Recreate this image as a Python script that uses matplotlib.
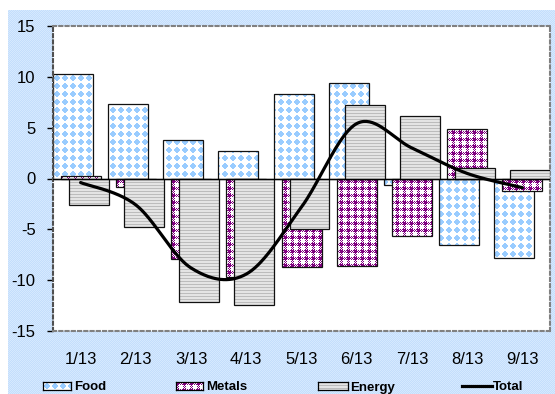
import numpy as np
import matplotlib
matplotlib.use("Agg")
import matplotlib.pyplot as plt
from matplotlib.path import Path
from matplotlib.lines import Line2D

plt.rcParams['font.family'] = ['Liberation Sans', 'DejaVu Sans']
plt.rcParams['axes.unicode_minus'] = False

# monthly contributions (percentage points)
months = ["1/13", "2/13", "3/13", "4/13", "5/13", "6/13", "7/13", "8/13", "9/13"]
food = [10.3, 7.3, 3.8, 2.7, 8.3, 9.4, -0.6, -6.5, -7.8]
metals = [0.2, -0.8, -7.9, -9.7, -8.7, -8.6, -5.7, 4.9, -1.2]
energy = [-2.6, -4.8, -12.1, -12.4, -5.0, 7.2, 6.1, 1.0, 0.8]
total = [-0.4, -2.6, -8.8, -9.4, -2.8, 5.4, 3.0, 0.5, -0.9]

W, H = 555, 394
AX_L, AX_R, AX_T, AX_B = 53, 550, 26, 331

BLUE = np.array([0x99, 0xCC, 0xFF]) / 255
PURPLE = np.array([0x80, 0x00, 0x80]) / 255


def food_tile():
    t = np.ones((8, 8, 3))
    yy, xx = np.mgrid[0:8, 0:8]
    d = np.abs(xx - 3.5) + np.abs(yy - 3.5)
    t[d <= 3] = BLUE
    return t


def metals_tile():
    # plaid: solid where both bands cross, dithered where only one band runs
    t = np.ones((7, 7, 3))
    yy, xx = np.mgrid[0:7, 0:7]
    row_band = yy < 3
    col_band = xx < 3
    dither = (xx + yy) % 2 == 0
    t[row_band & col_band] = PURPLE
    t[(row_band ^ col_band) & dither] = PURPLE
    return t


def energy_tile():
    t = np.full((3, 3, 3), 0xE4 / 255)
    t[0, :] = 0xBC / 255
    return t


def tiled(tile, h, w):
    th, tw = tile.shape[:2]
    return np.tile(tile, (h // th + 1, w // tw + 1, 1))[:h, :w]


fig = plt.figure(figsize=(W / 100, H / 100), dpi=100)

# light blue chart area with a fine dither
bg_h, bg_w = H - 10, W - 8
chk = (np.add.outer(np.arange(bg_h), np.arange(bg_w)) % 2)[..., None]
bg = np.where(chk, np.array([0xC4, 0xDE, 0xFC]) / 255, np.array([0xD6, 0xE9, 0xFE]) / 255)
fig.figimage(bg, xo=8, yo=0, zorder=-1)

ax = fig.add_axes([AX_L / W, (H - AX_B) / H, (AX_R - AX_L) / W, (AX_B - AX_T) / H])
ax.set_facecolor("white")

x = np.arange(len(months))
cat_w = (AX_R - AX_L) / len(months)
bar_w = 40 / cat_w
step = 8 / cat_w
ph, pw = AX_B - AX_T, AX_R - AX_L

series = [(food, food_tile(), -step, 2), (metals, metals_tile(), 0, 3), (energy, energy_tile(), step, 4)]
for vals, tile, off, z in series:
    bars = ax.bar(x + off, vals, bar_w, facecolor="none", edgecolor="#111111",
                  linewidth=0.9, zorder=z + 0.5)
    im = ax.imshow(tiled(tile, ph, pw), extent=(-0.5, 8.5, -15, 15), aspect="auto",
                   interpolation="nearest", zorder=z)
    paths = [b.get_patch_transform().transform_path(b.get_path()) for b in bars]
    im.set_clip_path(Path.make_compound_path(*paths), ax.transData)


def smooth(xs, ys, n=40):
    pts = np.column_stack([xs, ys]).astype(float)
    ext = np.vstack([pts[0], pts, pts[-1]])
    out = []
    t = np.linspace(0, 1, n)[:, None]
    for i in range(len(pts) - 1):
        p0, p1, p2, p3 = ext[i], ext[i + 1], ext[i + 2], ext[i + 3]
        c1 = p1 + (p2 - p0) / 6
        c2 = p2 - (p3 - p1) / 6
        seg = (1 - t) ** 3 * p1 + 3 * (1 - t) ** 2 * t * c1 + 3 * (1 - t) * t ** 2 * c2 + t ** 3 * p2
        out.append(seg if i == 0 else seg[1:])
    return np.vstack(out)


curve = smooth(x, total)
ax.plot(curve[:, 0], curve[:, 1], color="black", linewidth=2.3,
        solid_capstyle="round", zorder=6)

ax.axhline(0, color="black", linewidth=1.0, zorder=5)

ax.set_xlim(-0.5, 8.5)
ax.set_ylim(-15, 15)
ax.set_yticks(np.arange(-15, 16, 5))
ax.set_xticks(x)
ax.set_xticklabels(months)
ax.tick_params(axis="x", length=0, pad=15, labelsize=12)
ax.tick_params(axis="y", length=4.5, width=1, pad=8, labelsize=12, direction="out")

for side, spine in ax.spines.items():
    spine.set_linestyle((0, (1.5, 1.5)))
    spine.set_linewidth(1.5)
    spine.set_color("#808080" if side != "left" else "#505050")

# legend along the bottom edge
def swatch(x0, x1, tile):
    sw = fig.add_axes([x0 / W, (H - 390) / H, (x1 - x0) / W, 8 / H])
    sw.imshow(tiled(tile, 8, x1 - x0), aspect="auto", interpolation="nearest")
    sw.set_xticks([])
    sw.set_yticks([])
    for s in sw.spines.values():
        s.set_linewidth(0.9)
        s.set_color("black")


swatch(43, 71, food_tile())
swatch(176, 203, metals_tile())
swatch(318, 348, energy_tile())
fig.add_artist(Line2D([462 / W, 492 / W], [(H - 385.5) / H] * 2, color="black",
                      linewidth=2.3, transform=fig.transFigure))

for lx, name in [(74, "Food"), (206, "Metals"), (350, "Energy"), (493, "Total")]:
    fig.text(lx / W, (H - 390.5) / H, name, fontsize=9.5, fontweight="bold",
             ha="left", va="baseline")

fig.savefig("out.png", dpi=100)
